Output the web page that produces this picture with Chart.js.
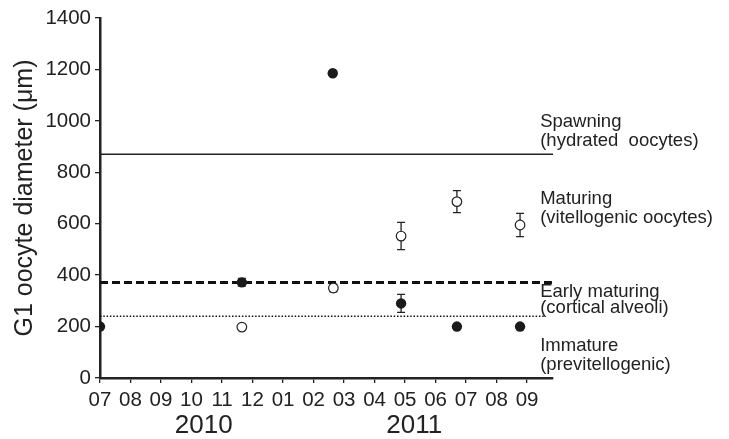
<!DOCTYPE html>
<html>
<head>
<meta charset="utf-8">
<script src="https://cdn.jsdelivr.net/npm/chart.js@4"></script>
<style>
  html, body { margin: 0; padding: 0; background: #fff; }
  #wrap { width: 729px; height: 439px; }
</style>
</head>
<body>
<div id="wrap"><canvas id="grafico" width="729" height="439"></canvas></div>
<script>
// Meses (indice 0 = julio 2010)
const monthLabels = ['07', '08', '09', '10', '11', '12', '01', '02', '03', '04', '05', '06', '07', '08', '09'];
const yearLabels = ['2010', '2011'];
const yearAt = [3.4, 10.3];

// Puntos rellenos
const filledMonth = [0, 4.65, 7.63, 9.87, 11.7, 13.77];
const filledValue = [200, 372, 1185, 290, 200, 200];
const filledError = [0, 15, 0, 35, 0, 0];

// Puntos abiertos
const openMonth = [4.65, 7.65, 9.87, 11.7, 13.77];
const openValue = [198, 350, 552, 686, 595];
const openError = [0, 15, 53, 43, 45];

// Umbrales de estadio
const spawningLimit = 870;
const earlyLimit = 371;
const immatureLimit = 240;

const stageLines = [
    ['Spawning', '(hydrated  oocytes)'],
    ['Maturing', '(vitellogenic oocytes)'],
    ['Early maturing', '(cortical alveoli)'],
    ['Immature', '(previtellogenic)']
];
const stageTextAt = [[994, 922], [698, 624], [335, 273], [126, 52]];

const FONT = "'Liberation Sans', Arial, sans-serif";
const INK = '#222';

function puntos(xs, ys) {
    return xs.map((x, i) => ({ x: x, y: ys[i] }));
}

function linea(y, hasta) {
    return [{ x: 0, y: y }, { x: hasta, y: y }];
}

// Barras de error (debajo de los puntos)
const barrasError = {
    id: 'barrasError',
    beforeDatasetsDraw(chart) {
        const ctx = chart.ctx;
        const xs = chart.scales.x, ys = chart.scales.y;
        const grupos = [[filledMonth, filledValue, filledError], [openMonth, openValue, openError]];
        ctx.save();
        ctx.strokeStyle = INK;
        ctx.lineWidth = 1.3;
        grupos.forEach(([mx, vy, err]) => {
            mx.forEach((m, i) => {
                if (!err[i]) return;
                const px = xs.getPixelForValue(m);
                const top = ys.getPixelForValue(vy[i] + err[i]);
                const bot = ys.getPixelForValue(vy[i] - err[i]);
                ctx.beginPath();
                ctx.moveTo(px, top); ctx.lineTo(px, bot);
                ctx.moveTo(px - 4, top); ctx.lineTo(px + 4, top);
                ctx.moveTo(px - 4, bot); ctx.lineTo(px + 4, bot);
                ctx.stroke();
            });
        });
        ctx.restore();
    }
};

// Textos: años y estadios
const textos = {
    id: 'textos',
    afterDraw(chart) {
        const ctx = chart.ctx;
        const xs = chart.scales.x, ys = chart.scales.y;
        ctx.save();
        ctx.fillStyle = INK;
        ctx.textBaseline = 'middle';

        ctx.font = '26px ' + FONT;
        ctx.textAlign = 'center';
        yearLabels.forEach((t, i) => {
            ctx.fillText(t, xs.getPixelForValue(yearAt[i]), chart.chartArea.bottom + 48);
        });

        ctx.font = '18.5px ' + FONT;
        ctx.textAlign = 'left';
        const tx = xs.getPixelForValue(14.43);
        stageLines.forEach((lineas, i) => {
            lineas.forEach((t, j) => {
                ctx.fillText(t, tx, ys.getPixelForValue(stageTextAt[i][j]));
            });
        });
        ctx.restore();
    }
};

const ctx = document.getElementById('grafico').getContext('2d');
const chart = new Chart(ctx, {
    type: 'scatter',
    data: {
        datasets: [
            {
                label: 'filled',
                data: puntos(filledMonth, filledValue),
                pointRadius: 5.2,
                pointBackgroundColor: '#1a1a1a',
                pointBorderColor: '#1a1a1a',
                pointBorderWidth: 0
            },
            {
                label: 'open',
                data: puntos(openMonth, openValue),
                pointRadius: 4.8,
                pointBackgroundColor: '#fff',
                pointBorderColor: INK,
                pointBorderWidth: 1.2
            },
            {
                label: 'spawning',
                type: 'line',
                data: linea(spawningLimit, 14.85),
                borderColor: INK,
                borderWidth: 1.6,
                pointRadius: 0
            },
            {
                label: 'early',
                type: 'line',
                data: linea(earlyLimit, 14.85),
                borderColor: '#111',
                borderWidth: 3,
                borderDash: [8, 4],
                pointRadius: 0
            },
            {
                label: 'immature',
                type: 'line',
                data: linea(immatureLimit, 14.55),
                borderColor: '#111',
                borderWidth: 1.6,
                borderDash: [1.5, 1.8],
                pointRadius: 0
            }
        ]
    },
    options: {
        responsive: false,
        animation: false,
        devicePixelRatio: 1,
        layout: { padding: { top: 18, right: 176, bottom: 0, left: 0 } },
        plugins: {
            legend: { display: false },
            tooltip: { enabled: false }
        },
        scales: {
            x: {
                type: 'linear',
                min: 0,
                max: 14.85,
                afterBuildTicks(scale) {
                    scale.ticks = monthLabels.map((_, i) => ({ value: i }));
                },
                afterFit(scale) { scale.height = 61; },
                ticks: {
                    stepSize: 1,
                    autoSkip: false,
                    maxRotation: 0,
                    padding: 5,
                    color: INK,
                    font: { family: FONT, size: 20.5 },
                    callback: (v) => monthLabels[v]
                },
                grid: {
                    drawOnChartArea: false,
                    drawTicks: true,
                    tickLength: 5,
                    color: INK,
                    lineWidth: 1.3
                },
                border: { display: true, color: INK, width: 2.5 }
            },
            y: {
                min: 0,
                max: 1400,
                afterFit(scale) { scale.width = 100; },
                ticks: {
                    stepSize: 200,
                    padding: 4,
                    color: INK,
                    font: { family: FONT, size: 20.5 },
                    callback: (v) => String(v)
                },
                grid: {
                    drawOnChartArea: false,
                    drawTicks: true,
                    tickLength: 5,
                    color: INK,
                    lineWidth: 1.3
                },
                border: { display: true, color: INK, width: 2.5 },
                title: {
                    display: true,
                    text: 'G1 oocyte diameter (μm)',
                    color: INK,
                    font: { family: FONT, size: 25 },
                    padding: { top: 10, bottom: 0 }
                }
            }
        }
    },
    plugins: [barrasError, textos]
});
</script>
</body>
</html>
